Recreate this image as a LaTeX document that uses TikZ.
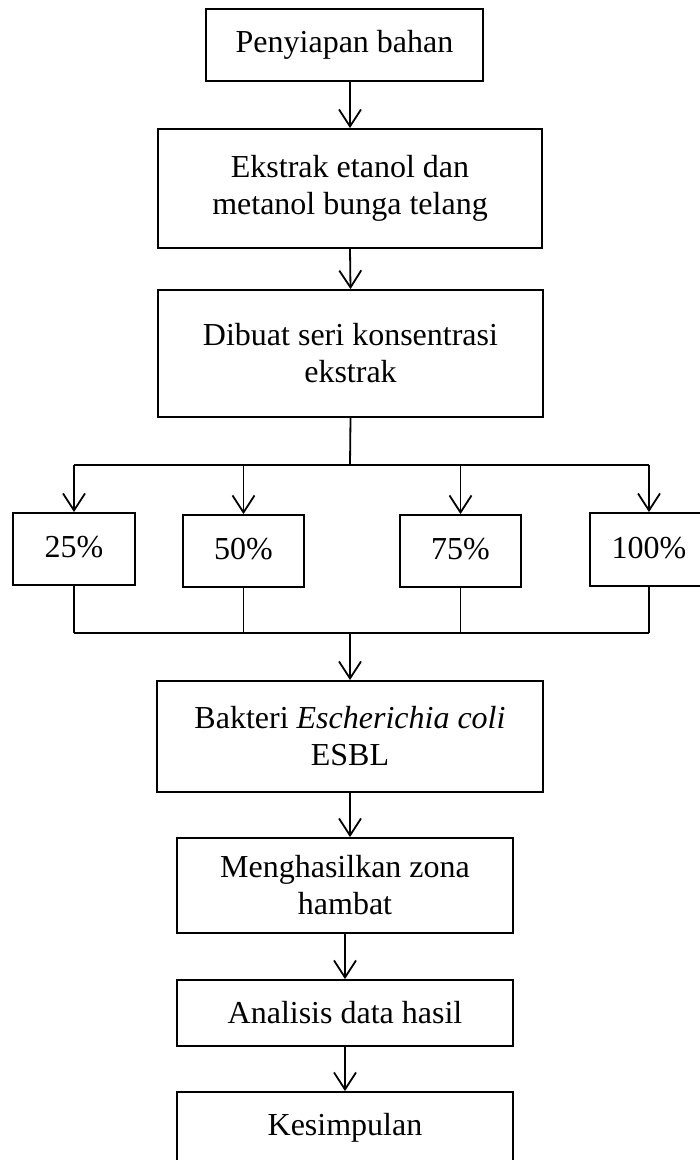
\documentclass[tikz,border=0pt]{standalone}
\usepackage{fontspec}
\setmainfont{Liberation Serif}
\usetikzlibrary{arrows.meta}

\begin{document}
\begin{tikzpicture}[x=1pt,y=-1pt,
  kotak/.style={draw,line width=1.8pt,align=center,inner sep=0pt,
    font=\fontsize{32}{37}\selectfont},
  panah/.style={line width=1.8pt,-{Straight Barb[length=17pt,width=22pt,line width=1.8pt]}},
  garis/.style={line width=1.8pt}]

\useasboundingbox (0,0) rectangle (700,1160);										% Rahmen

\node[kotak,minimum width=277pt,minimum height=72pt] (bahan) at (344.5,45) {Penyiapan bahan};	% Kasten 1
\node[kotak,minimum width=384pt,minimum height=119pt] (ekstrak) at (350,188.5) {Ekstrak etanol dan\\metanol bunga telang};	% Kasten 2
\node[kotak,minimum width=385pt,minimum height=127pt] (seri) at (350.5,353.5) {Dibuat seri konsentrasi\\ekstrak};	% Kasten 3

\node[kotak,minimum width=122pt,minimum height=72pt] (p25) at (74,549) {\raisebox{4pt}{25\%}};		% Konzentration 1
\node[kotak,minimum width=121pt,minimum height=72pt] (p50) at (243.5,551) {\raisebox{4pt}{50\%}};	% Konzentration 2
\node[kotak,minimum width=121pt,minimum height=72pt] (p75) at (460.5,551) {\raisebox{4pt}{75\%}};	% Konzentration 3
\node[kotak,minimum width=118pt,minimum height=73pt] (p100) at (649,549.5) {\raisebox{4pt}{100\%}};	% Konzentration 4

\node[kotak,minimum width=386pt,minimum height=111pt] (bakteri) at (350,736.5) {Bakteri \textit{Escherichia coli}\\ESBL};	% Kasten 4
\node[kotak,minimum width=336pt,minimum height=95pt] (zona) at (345,885.5) {Menghasilkan zona\\hambat};	% Kasten 5
\node[kotak,minimum width=336pt,minimum height=66pt] (analisis) at (345,1013) {Analisis data hasil};	% Kasten 6
\node[kotak,minimum width=336pt,minimum height=78pt,text depth=0pt] (simpul) at (345,1131) {\raisebox{14pt}{Kesimpulan}};	% Kasten 7

\coordinate (bagi) at (350,465);													% Verzweigung oben
\coordinate (gabung) at (350,633);													% Verzweigung unten

\draw[panah] (ekstrak.north |- bahan.south) -- (ekstrak.north);
\draw[panah] (ekstrak.south) -- (seri.north);
\draw[garis] (seri.south) -- (bagi);
\draw[garis] (p25.north |- bagi) -- (p100.north |- bagi);
\foreach \k in {p25,p50,p75,p100}
  \draw[panah] (\k.north |- bagi) -- (\k.north);							% Pfeile zu Konzentrationen
\foreach \k in {p25,p50,p75,p100}
  \draw[garis] (\k.south) -- (\k.south |- gabung);							% Linien von Konzentrationen
\draw[garis] (p25.south |- gabung) -- (p100.south |- gabung);
\draw[panah] (gabung) -- (bakteri.north);
\draw[panah] (bakteri.south) -- (bakteri.south |- zona.north);
\draw[panah] (zona.south) -- (analisis.north);
\draw[panah] (analisis.south) -- (simpul.north);

\end{tikzpicture}
\end{document}
